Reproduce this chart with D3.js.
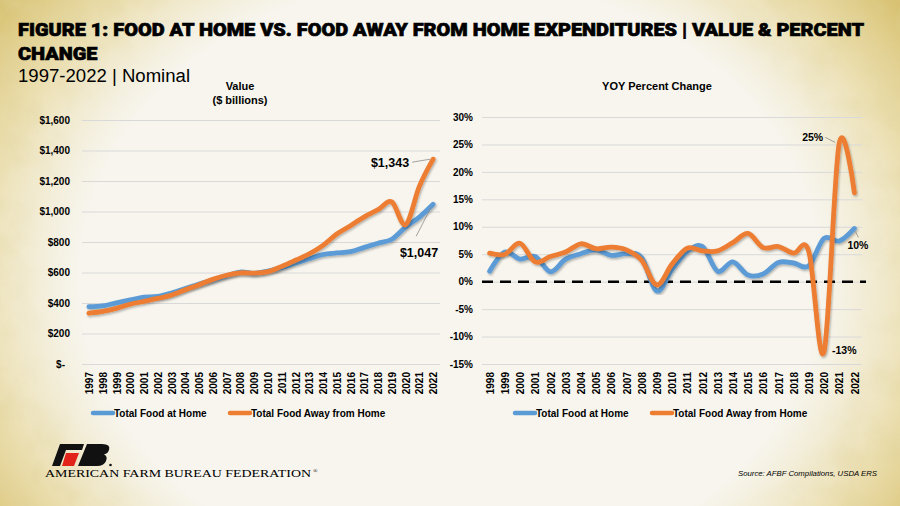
<!DOCTYPE html>
<html>
<head>
<meta charset="utf-8">
<script src="https://cdn.jsdelivr.net/npm/d3@7"></script>
<style>
  html, body { margin: 0; padding: 0; background: #f7f4ec; }
  svg { display: block; }
  .ax text { font-family: "Liberation Sans", Arial, sans-serif; font-weight: bold; font-size: 10px; fill: #000; }
</style>
</head>
<body>
<div id="chart"></div>
<script>
// data
const years = ["1997","1998","1999","2000","2001","2002","2003","2004","2005","2006","2007","2008","2009",
               "2010","2011","2012","2013","2014","2015","2016","2017","2018","2019","2020","2021","2022"];
const foodAtHome = [376, 381, 401, 420, 438, 443, 466, 495, 525, 550, 578, 603, 594,
                    610, 632, 662, 690, 718, 728, 737, 765, 792, 818, 898, 963, 1047];
const foodAway   = [333, 345, 365, 392, 411, 430, 453, 487, 520, 555, 582, 598, 596,
                    606, 640, 680, 722, 778, 852, 907, 965, 1012, 1063, 914, 1165, 1343];

const yoyYears = years.slice(1);
const yoyHome = [1.9, 5.4, 4.1, 4.6, 1.8, 4.1, 5.1, 5.8, 4.8, 5.1, 4.4, -1.7,
                 2.2, 5.5, 6.4, 1.9, 3.6, 1.2, 1.4, 3.5, 3.4, 2.9, 7.9, 7.4, 9.7];
const yoyAway = [5.2, 5.0, 7.0, 3.6, 4.6, 5.4, 6.9, 6.0, 6.3, 5.8, 3.9, -0.6,
                 3.2, 6.1, 5.6, 5.6, 7.1, 8.8, 6.2, 6.4, 5.2, 5.5, -12.8, 25.2, 16.2];

const valueTicks = [0, 200, 400, 600, 800, 1000, 1200, 1400, 1600];
const pctTicks = [-15, -10, -5, 0, 5, 10, 15, 20, 25, 30];
const seriesNames = ["Total Food at Home", "Total Food Away from Home"];
const colors = ["#5b9bd5", "#ed7d31"];

const W = 900, H = 506;
const svg = d3.select("#chart").append("svg")
  .attr("width", W).attr("height", H);

const defs = svg.append("defs");

// background: cream with yellow grungy edges (stronger at the sides)
const stretch = "translate(0.5,0.55) scale(1,1.45) translate(-0.5,-0.55)";
const vg = defs.append("radialGradient").attr("id", "vign")
  .attr("cx", 0.5).attr("cy", 0.55).attr("r", 0.62).attr("gradientTransform", stretch);
vg.append("stop").attr("offset", 0.72).attr("stop-color", "#fff").attr("stop-opacity", 0);
vg.append("stop").attr("offset", 0.88).attr("stop-color", "#fff").attr("stop-opacity", 0.7);
vg.append("stop").attr("offset", 1).attr("stop-color", "#fff").attr("stop-opacity", 1);

const tint = defs.append("radialGradient").attr("id", "tint")
  .attr("cx", 0.5).attr("cy", 0.55).attr("r", 0.62).attr("gradientTransform", stretch);
tint.append("stop").attr("offset", 0.66).attr("stop-color", "#ece0b0").attr("stop-opacity", 0);
tint.append("stop").attr("offset", 0.86).attr("stop-color", "#e6d596").attr("stop-opacity", 0.75);
tint.append("stop").attr("offset", 1).attr("stop-color", "#d8c272").attr("stop-opacity", 1);

const mask = defs.append("mask").attr("id", "edgeMask");
mask.append("rect").attr("width", W).attr("height", H).attr("fill", "url(#vign)");

const grain = defs.append("filter").attr("id", "grain")
  .attr("x", 0).attr("y", 0).attr("width", "100%").attr("height", "100%");
grain.append("feTurbulence").attr("type", "fractalNoise")
  .attr("baseFrequency", 0.03).attr("numOctaves", 4).attr("seed", 7);
grain.append("feColorMatrix").attr("type", "matrix")
  .attr("values", "0 0 0 0 0.74  0 0 0 0 0.65  0 0 0 0 0.32  1.6 0 0 0 -0.7");

const shadow = defs.append("filter").attr("id", "shadow")
  .attr("x", "-5%").attr("y", "-5%").attr("width", "110%").attr("height", "110%");
shadow.append("feDropShadow").attr("dx", 1).attr("dy", 1.5)
  .attr("stdDeviation", 1.2).attr("flood-color", "#000").attr("flood-opacity", 0.3);

svg.append("rect").attr("width", W).attr("height", H).attr("fill", "#f7f5ee");
svg.append("rect").attr("width", W).attr("height", H).attr("fill", "url(#tint)");
svg.append("rect").attr("width", W).attr("height", H)
  .attr("filter", "url(#grain)").attr("mask", "url(#edgeMask)");

// title block
const titleFont = "Roboto, 'Liberation Sans', Arial, sans-serif";
const t1 = svg.append("text").attr("x", 18).attr("y", 36)
  .style("font-family", titleFont).style("font-weight", 900).style("font-size", "19px")
  .attr("stroke", "#000").attr("stroke-width", 0.7)
  .text("FIGURE 1: FOOD AT HOME VS. FOOD AWAY FROM HOME EXPENDITURES | VALUE & PERCENT");
const t2 = svg.append("text").attr("x", 18).attr("y", 60)
  .style("font-family", titleFont).style("font-weight", 900).style("font-size", "19px")
  .attr("stroke", "#000").attr("stroke-width", 0.7)
  .text("CHANGE");
const ratio = 846 / t1.node().getComputedTextLength();
t1.attr("textLength", 846).attr("lengthAdjust", "spacingAndGlyphs");
t2.attr("textLength", t2.node().getComputedTextLength() * ratio).attr("lengthAdjust", "spacingAndGlyphs");

svg.append("text").attr("x", 18).attr("y", 82)
  .style("font-family", "'Liberation Sans', Arial, sans-serif").style("font-size", "18px")
  .attr("textLength", 172).attr("lengthAdjust", "spacingAndGlyphs")
  .text("1997-2022 | Nominal");

const line = (x, y) => d3.line()
  .x(d => x(d.k))
  .y(d => y(d.v))
  .curve(d3.curveCatmullRom.alpha(0));

function chartTitle(lines, cx) {
  lines.forEach((t, i) => {
    svg.append("text").attr("x", cx).attr("y", 90 + i * 14)
      .attr("text-anchor", "middle")
      .style("font-family", "'Liberation Sans', Arial, sans-serif")
      .style("font-weight", "bold").style("font-size", "11px")
      .text(t);
  });
}

function legend(x0, gap) {
  const g = svg.append("g").attr("class", "ax");
  seriesNames.forEach((n, i) => {
    const x = x0 + i * gap;
    g.append("line").attr("x1", x).attr("x2", x + 20).attr("y1", 413).attr("y2", 413)
      .attr("stroke", colors[i]).attr("stroke-width", 4.5).attr("stroke-linecap", "round");
    g.append("text").attr("x", x + 21).attr("y", 416.5).text(n);
  });
}

function label(t, x, y, size, anchor) {
  svg.append("text").attr("x", x).attr("y", y).attr("text-anchor", anchor || "start")
    .style("font-family", "'Liberation Sans', Arial, sans-serif")
    .style("font-weight", "bold").style("font-size", size + "px").text(t);
}

function leader(x1, y1, x2, y2) {
  svg.append("line").attr("x1", x1).attr("y1", y1).attr("x2", x2).attr("y2", y2)
    .attr("stroke", "#8c8c8c").attr("stroke-width", 0.8);
}

// ---- left chart: value
{
  const x = d3.scalePoint().domain(years).range([82, 440]).padding(0.5);
  const y = d3.scaleLinear().domain([0, 1600]).range([364, 120]);

  const ya = svg.append("g").attr("class", "ax").attr("transform", "translate(82,0)")
    .call(d3.axisLeft(y).tickValues(valueTicks).tickSize(-358).tickPadding(12)
      .tickFormat(d => d === 0 ? "$-" : "$" + d3.format(",")(d)));
  ya.select(".domain").remove();
  ya.selectAll(".tick line").attr("stroke", "#d9d9d9");
  ya.selectAll(".tick text").filter(d => d === 0).attr("dx", -5);

  const xa = svg.append("g").attr("class", "ax").attr("transform", "translate(0,364)")
    .call(d3.axisBottom(x).tickSize(0));
  xa.select(".domain").remove();
  xa.selectAll("text").attr("x", -8).attr("y", 0).attr("dy", "0.36em")
    .attr("transform", "rotate(-90)").style("text-anchor", "end");

  [foodAtHome, foodAway].forEach((s, i) => {
    svg.append("path")
      .datum(s.map((v, j) => ({k: years[j], v})))
      .attr("d", line(x, y))
      .attr("fill", "none").attr("stroke", colors[i]).attr("stroke-width", 4.8)
      .attr("stroke-linecap", "round").attr("filter", "url(#shadow)");
  });

  chartTitle(["Value", "($ billions)"], 240);
  legend(93, 137);

  const last = years[years.length - 1];
  const xa1 = x(last), ya1 = y(foodAway[foodAway.length - 1]);
  leader(xa1 - 21, ya1 + 3, xa1 - 3, ya1);
  label("$" + d3.format(",")(foodAway[foodAway.length - 1]), xa1 - 24, ya1 + 8, 12.5, "end");
  const yb1 = y(foodAtHome[foodAtHome.length - 1]);
  leader(xa1 - 2, yb1 + 3, xa1 - 17, yb1 + 32);
  label("$" + d3.format(",")(foodAtHome[foodAtHome.length - 1]), xa1 + 5, yb1 + 53, 12.5, "end");
}

// ---- right chart: YOY percent change
{
  const x = d3.scalePoint().domain(yoyYears).range([482, 862]).padding(0.5);
  const y = d3.scaleLinear().domain([-15, 30]).range([364, 117]);

  const ya = svg.append("g").attr("class", "ax").attr("transform", "translate(482,0)")
    .call(d3.axisLeft(y).tickValues(pctTicks).tickSize(-380).tickPadding(9)
      .tickFormat(d => d + "%"));
  ya.select(".domain").remove();
  ya.selectAll(".tick line").attr("stroke", "#d9d9d9");

  svg.append("line").attr("x1", 482).attr("x2", 866).attr("y1", y(0)).attr("y2", y(0))
    .attr("stroke", "#000").attr("stroke-width", 2.5).attr("stroke-dasharray", "11,7");

  const xa = svg.append("g").attr("class", "ax").attr("transform", "translate(0,364)")
    .call(d3.axisBottom(x).tickSize(0));
  xa.select(".domain").remove();
  xa.selectAll("text").attr("x", -8).attr("y", 0).attr("dy", "0.36em")
    .attr("transform", "rotate(-90)").style("text-anchor", "end");

  [yoyHome, yoyAway].forEach((s, i) => {
    svg.append("path")
      .datum(s.map((v, j) => ({k: yoyYears[j], v})))
      .attr("d", line(x, y))
      .attr("fill", "none").attr("stroke", colors[i]).attr("stroke-width", 4.8)
      .attr("stroke-linecap", "round").attr("filter", "url(#shadow)");
  });

  chartTitle(["YOY Percent Change"], 657);
  legend(515, 137);

  const n = yoyYears.length;
  const xPeak = x(yoyYears[n - 2]), yPeak = y(yoyAway[n - 2]);
  leader(xPeak - 14, yPeak - 6, xPeak - 4, yPeak - 1);
  label("25%", xPeak - 16, yPeak - 2, 10.5, "end");
  const xLow = x(yoyYears[n - 3]), yLow = y(yoyAway[n - 3]);
  label("-13%", xLow + 8, yLow + 2, 10.5, "start");
  const xEnd = x(yoyYears[n - 1]), yEnd = y(yoyHome[n - 1]);
  leader(xEnd + 1, yEnd + 3, xEnd + 4, yEnd + 9);
  label("10%", xEnd - 7, yEnd + 21, 10.5, "start");
}

// ---- footer: logo + source
{
  const g = svg.append("g").attr("transform", "translate(52,444)");
  g.append("path").attr("fill", "#111")
    .attr("d", "M8,0 L32,0 L30,6 L14,6 L8,22 L0,22 Z");
  g.append("path").attr("fill", "#e2231a")
    .attr("d", "M14,9 L27,9 L22,22 L10,22 Z");
  g.append("path").attr("fill", "#111")
    .attr("d", "M35,0 L50,0 Q59,0 57,6 Q56,9.5 52,10.5 Q56,12 54,17 Q52,22 45,22 L26,22 Z");
  g.append("circle").attr("cx", 58.5).attr("cy", 21).attr("r", 1.3).attr("fill", "#111");

  svg.append("text").attr("x", 45).attr("y", 477)
    .style("font-family", "'Liberation Serif', 'DejaVu Serif', serif").style("font-size", "10px")
    .attr("textLength", 266).attr("lengthAdjust", "spacingAndGlyphs")
    .text("AMERICAN FARM BUREAU FEDERATION");
  svg.append("text").attr("x", 313).attr("y", 473)
    .style("font-family", "'Liberation Serif', serif").style("font-size", "6px").text("®");

  svg.append("text").attr("x", 877).attr("y", 476).attr("text-anchor", "end")
    .style("font-family", "'Liberation Sans Narrow', 'Liberation Sans', Arial, sans-serif")
    .style("font-style", "italic").style("font-size", "8px")
    .attr("textLength", 139).attr("lengthAdjust", "spacingAndGlyphs")
    .text("Source: AFBF Compilations, USDA ERS");
}
</script>
</body>
</html>
